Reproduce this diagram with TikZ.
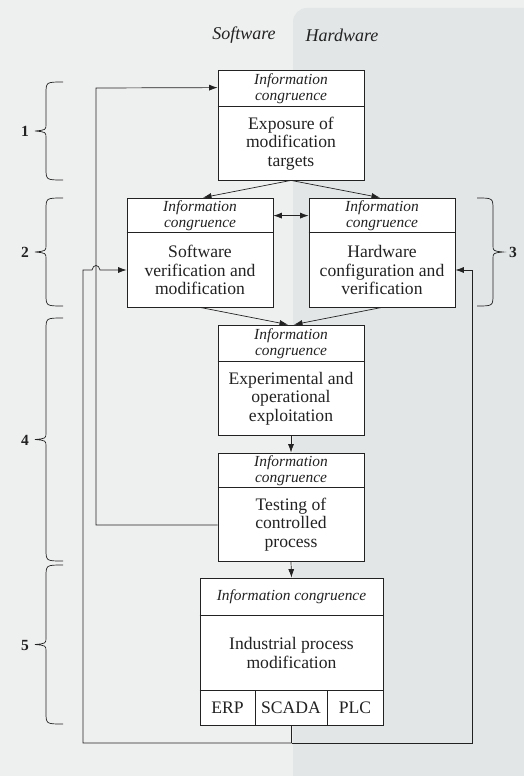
\documentclass[tikz,border=0pt]{standalone}
\usepackage{fontspec}
\setmainfont{Liberation Serif}
\usetikzlibrary{arrows.meta,calc}
\definecolor{bgL}{HTML}{EEF0EF}
\definecolor{bgR}{HTML}{E2E6E7}
\definecolor{ink}{HTML}{222222}
\newcommand{\BrL}[2]{%
\draw[brc] (63,#1) .. controls (46,#1) .. (46,{#1+12}) -- (46,{(#1+#2)/2-7}) .. controls (46,{(#1+#2)/2-1}) .. (35,{(#1+#2)/2}) .. controls (46,{(#1+#2)/2+1}) .. (46,{(#1+#2)/2+7}) -- (46,{#2-12}) .. controls (46,#2) .. (63,#2);}
\newcommand{\BrR}[2]{%
\draw[brc] (477,#1) .. controls (493,#1) .. (493,{#1+12}) -- (493,{(#1+#2)/2-7}) .. controls (493,{(#1+#2)/2-1}) .. (503,{(#1+#2)/2}) .. controls (493,{(#1+#2)/2+1}) .. (493,{(#1+#2)/2+7}) -- (493,{#2-12}) .. controls (493,#2) .. (477,#2);}
\begin{document}
\begin{tikzpicture}[x=1pt,y=-1pt,
  box/.style={draw=ink, fill=white, line width=0.8pt, inner sep=0pt},
  hdr/.style={font=\fontsize{15.4}{16}\selectfont\itshape, align=center, text=ink, inner sep=0pt},
  body/.style={font=\fontsize{17.6}{18.3}\selectfont, align=center, text=ink, inner sep=0pt},
  conn/.style={draw=ink, line width=0.7pt},
  arr/.style={conn, -{Latex[length=8.5pt,width=6pt]}},
  darr/.style={conn, {Latex[length=8.5pt,width=6pt]}-{Latex[length=8.5pt,width=6pt]}},
  brc/.style={draw=ink, line width=0.7pt},
  num/.style={font=\fontsize{15.5}{15.5}\selectfont\bfseries, text=ink, inner sep=0pt},
  head/.style={font=\fontsize{18}{18}\selectfont\itshape, text=ink, inner sep=0pt}]
\useasboundingbox (0,0) rectangle (524,776);
\begin{scope}
\clip (0,0) rectangle (524,776);
\fill[bgL] (0,0) rectangle (524,776);
\fill[bgR, rounded corners=14pt] (293,8) rectangle (560,790);
\end{scope}

% column headings
\node[head] (sw) at (244,35) {Software};
\node[head] (hw) at (342,35) {Hardware};

% box 1
\node[box, minimum width=146pt, minimum height=110pt] (T) at (291,125) {};
\draw[conn] ($(T.north west)+(0,37)$) -- ($(T.north east)+(0,37)$);
\node[hdr] (Th) at (291,88.5) {Information\\congruence};
\node[body] (Tb) at (291,143.5) {Exposure of\\modification\\targets};

% software box
\node[box, minimum width=146pt, minimum height=109pt] (SW) at (200,252.5) {};
\draw[conn] ($(SW.north west)+(0,35)$) -- ($(SW.north east)+(0,35)$);
\node[hdr] (SWh) at (200,215.5) {Information\\congruence};
\node[body] (SWb) at (200,270) {Software\\verification and\\modification};

% hardware box
\node[box, minimum width=146pt, minimum height=109pt] (HW) at (382,252.5) {};
\draw[conn] ($(HW.north west)+(0,35)$) -- ($(HW.north east)+(0,35)$);
\node[hdr] (HWh) at (382,215.5) {Information\\congruence};
\node[body] (HWb) at (382,270) {Hardware\\configuration and\\verification};

% experimental box
\node[box, minimum width=146pt, minimum height=110pt] (EX) at (291,380) {};
\draw[conn] ($(EX.north west)+(0,37)$) -- ($(EX.north east)+(0,37)$);
\node[hdr] (EXh) at (291,343.5) {Information\\congruence};
\node[body] (EXb) at (291,398.5) {Experimental and\\operational\\exploitation};

% testing box
\node[box, minimum width=146pt, minimum height=108pt] (TS) at (291,507) {};
\draw[conn] ($(TS.north west)+(0,35)$) -- ($(TS.north east)+(0,35)$);
\node[hdr] (TSh) at (291,470.5) {Information\\congruence};
\node[body] (TSb) at (291,524.5) {Testing of\\controlled\\process};

% industrial box
\node[box, minimum width=183pt, minimum height=147pt] (IN) at (291.5,651.5) {};
\draw[conn] ($(IN.north west)+(0,38)$) -- ($(IN.north east)+(0,38)$);
\draw[conn] ($(IN.south west)+(0,-35)$) -- ($(IN.south east)+(0,-35)$);
\draw[conn] (255,690) -- (255,725);
\draw[conn] (327,690) -- (327,725);
\node[hdr] (INh) at (291.5,597) {Information congruence};
\node[body] (INb) at (291.5,653) {Industrial process\\modification};
\node[body] (erp) at (227.5,707.5) {ERP};
\node[body] (scada) at (291,707.5) {SCADA};
\node[body] (plc) at (355,707.5) {PLC};

% main flow arrows
\draw[arr] (T.south) -- ($(SW.north)+(3,0)$);
\draw[arr] (T.south) -- ($(HW.north)+(-2,0)$);
\draw[darr] ($(SW.north east)+(0,18)$) -- ($(HW.north west)+(0,18)$);
\draw[arr] (SW.south) -- ($(EX.north)+(-3,0)$);
\draw[arr] (HW.south) -- ($(EX.north)+(3,0)$);
\draw[arr] (EX.south) -- (TS.north);
\draw[arr] (TS.south) -- (IN.north);

% feedback from testing to exposure
\coordinate (fbT) at (96,88);
\draw[arr] ($(TS.west)+(0,18)$) -| (fbT) -- ($(T.north west)+(0,18)$);

% feedback from industrial process
\coordinate (bl) at (83,743);
\coordinate (br) at (472,743);
\coordinate (hopA) at (92,270);
\coordinate (hopB) at (100,270);
\draw[conn] (IN.south) -- (IN.south |- bl);
\draw[arr] (IN.south |- bl) -- (br) |- ($(HW.east)+(0,17.5)$);
\draw[arr] (IN.south |- bl) -- (bl) |- (hopA) .. controls (93,264) and (99,264) .. (hopB) -- ($(SW.west)+(0,17.5)$);

% braces
\BrL{82}{180}
\BrL{198}{306}
\BrL{318}{561}
\BrL{565}{724}
\BrR{198}{306}
\node[num] (n1) at (25,131) {1};
\node[num] (n2) at (25,252) {2};
\node[num] (n4) at (25,440) {4};
\node[num] (n5) at (25,645) {5};
\node[num] (n3) at (513,252) {3};
\end{tikzpicture}
\end{document}
